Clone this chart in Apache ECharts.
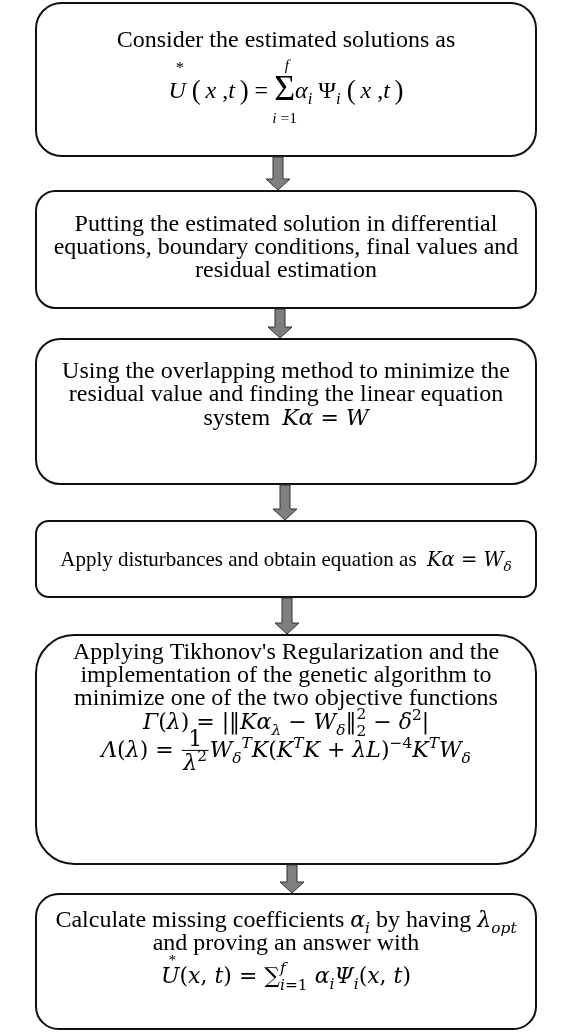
<!DOCTYPE html>
<html>
<head>
<meta charset="utf-8">
<script src="https://cdn.jsdelivr.net/npm/echarts@6/dist/echarts.min.js"></script>
<style>
html,body{margin:0;padding:0;background:#ffffff;}
#chart{width:561px;height:1032px;}
</style>
</head>
<body>
<div id="chart"></div>
<script>
// ---------- segment builders (text + math pieces) ----------
const R = s => ({k:'n', f:'T', s});          // roman text
const I = s => ({k:'n', f:'TI', s});         // italic text (Times-like)
const M = s => ({k:'n', f:'M', s});          // math italic
const U = s => ({k:'n', f:'MU', s});         // math upright
const toList = (s, f) => typeof s === 'string' ? [{s, f}] : s;
const Sub = (s, f) => ({k:'sub', list: toList(s, f || 'M')});
const Sup = (s, f) => ({k:'sup', list: toList(s, f || 'MU')});
const SubSup = (b, p) => ({k:'subsup', b, p});
const Frac = (num, den) => ({k:'frac', num, den});
const Acc = (s, a, f, rise, shift) => ({k:'acc', s, a, f, rise, shift});
const Big = (s, f, scale, drop) => ({k:'big', s, f, scale, drop});
const Op = (s, over, under, f) => ({k:'op', s, over, under, f});
const TH = '\u2009';

// ---------- chart content ----------
const stepLines = [
  [
    [R('Consider the estimated solutions as')],
    [Acc('U','*','TI',1.05,0.12), R(' '), Big('(','T',1.12,0.06), R(TH), I('x'), R(' ,'), I('t'), R(TH), Big(')','T',1.12,0.06), R(' = '),
     Op('Σ', [I('f')], [I('i'), R(' =1')], 'T'), I('α'), Sub([I('i')]), R(' Ψ'), Sub([I('i')]), R(' '),
     Big('(','T',1.12,0.06), R(TH), I('x'), R(' ,'), I('t'), R(TH), Big(')','T',1.12,0.06)]
  ],
  [
    [R('Putting the estimated solution in differential')],
    [R('equations, boundary conditions, final values and')],
    [R('residual estimation')]
  ],
  [
    [R('Using the overlapping method to minimize the')],
    [R('residual value and finding the linear equation')],
    [R('system  '), M('Kα'), U(' = '), M('W')]
  ],
  [
    [R('Apply disturbances and obtain equation as  '), M('Kα'), U(' = '), M('W'), Sub('δ')]
  ],
  [
    [R("Applying Tikhonov's Regularization and the")],
    [R('implementation of the genetic algorithm to')],
    [R('minimize one of the two objective functions')],
    [M('Γ'), U('('), M('λ'), U(') = |‖'), M('Kα'), Sub('λ'), U(' − '), M('W'), Sub('δ'), U('‖'),
     SubSup([U('2')],[U('2')]), U(' − '), M('δ'), Sup('2'), U('|')],
    [M('Λ'), U('('), M('λ'), U(') = '), Frac([U('1')], [M('λ'), Sup('2')]), M('W'), Sub('δ'), Sup('T','M'),
     M('K'), U('('), M('K'), Sup('T','M'), M('K'), U(' + '), M('λL'), U(')'), Sup('−4'), M('K'), Sup('T','M'), M('W'), Sub('δ')]
  ],
  [
    [R('Calculate missing coefficients '), M('α'), Sub('i'), R(' by having '), M('λ'), Sub('opt')],
    [R('and proving an answer with')],
    [Acc('U','*','M',0.8,0.1), U('('), M('x'), U(', '), M('t'), U(') = '), Big('∑','MU',1.0,0),
     SubSup([M('i'), U('=1')], [M('f')]), U(' '), M('α'), Sub('i'), M('Ψ'), Sub('i'), U('('), M('x'), U(', '), M('t'), U(')')]
  ]
];

// ---------- layout (flowchart geometry in canvas units) ----------
const boxTop      = [3, 191, 339, 521, 635, 894];
const boxBottom   = [156, 308, 484, 597, 864, 1029];
const arrowX      = [278, 280, 285, 287, 292];
const lineBaseline = [
  [47, 98],
  [231, 254, 277],
  [378, 401, 425],
  [566],
  [659, 682, 705, 729, 757],
  [927, 950, 983]
];
const textSize = [24, 24, 24, 21, 24, 24];
const mathSize = [22, 22, 22, 19.5, 22, 22];
const BOX_LEFT = 36, BOX_RIGHT = 536;

// ---------- text measurement ----------
const ctx = document.createElement('canvas').getContext('2d');
const FAM = {T:'"Liberation Serif"', TI:'"Liberation Serif"', M:'"DejaVu Serif"', MU:'"DejaVu Serif"'};
const STY = {T:'normal', TI:'italic', M:'italic', MU:'normal'};
function fontStr(f, size){ return STY[f] + ' normal ' + size + 'px ' + FAM[f]; }
function measure(f, size, s){ ctx.font = fontStr(f, size); return ctx.measureText(s).width; }
const midCache = {};
function midOffset(f, size){
  const key = f + size;
  if (midCache[key] !== undefined) return midCache[key];
  ctx.font = fontStr(f, size);
  ctx.textBaseline = 'alphabetic'; const a = ctx.measureText('H').actualBoundingBoxAscent;
  ctx.textBaseline = 'middle'; const b = ctx.measureText('H').actualBoundingBoxAscent;
  ctx.textBaseline = 'alphabetic';
  return (midCache[key] = a - b);
}

function layout(segs, ts, ms){
  const items = [], bars = [];
  let x = 0;
  const sz = f => (f === 'T' || f === 'TI') ? ts : ms;
  const add = (s, f, size, dx, dy) => { items.push({s, f, size, x: dx, dy}); return measure(f, size, s); };
  const runW = (list, scale) => list.reduce((w, g) => w + measure(g.f, sz(g.f)*scale, g.s), 0);
  const run = (list, scale, dx, dy) => { let w = 0; for (const g of list) w += add(g.s, g.f, sz(g.f)*scale, dx + w, dy); return w; };
  for (const g of segs){
    if (g.k === 'n') x += add(g.s, g.f, sz(g.f), x, 0);
    else if (g.k === 'big'){ const b = sz(g.f); x += add(g.s, g.f, b*g.scale, x, b*g.drop); }
    else if (g.k === 'sub'){ const b = sz(g.list[0].f); x += run(g.list, 0.7, x, 0.27*b); }
    else if (g.k === 'sup'){ const b = sz(g.list[0].f); x += run(g.list, 0.7, x, -0.42*b); }
    else if (g.k === 'subsup'){
      const b = sz(g.b[0].f);
      const w1 = run(g.b, 0.7, x, 0.3*b), w2 = run(g.p, 0.7, x, -0.45*b);
      x += Math.max(w1, w2);
    }
    else if (g.k === 'frac'){
      const n = layout(g.num, ts, ms), d = layout(g.den, ts, ms);
      const pad = 0.12*ms, w = Math.max(n.width, d.width) + 2*pad, axis = -0.3*ms;
      n.items.forEach(it => items.push({...it, x: it.x + x + (w - n.width)/2, dy: it.dy + axis - 0.2*ms}));
      d.items.forEach(it => items.push({...it, x: it.x + x + (w - d.width)/2, dy: it.dy + axis + 0.9*ms}));
      bars.push({x1: x + pad*0.4, x2: x + w - pad*0.4, dy: axis});
      x += w;
    }
    else if (g.k === 'acc'){
      const b = sz(g.f), w = add(g.s, g.f, b, x, 0);
      const aw = measure('T', b*0.7, g.a);
      add(g.a, 'T', b*0.7, x + (w - aw)/2 + g.shift*b, -g.rise*b);
      x += w;
    }
    else if (g.k === 'op'){
      const b = ts, w = add(g.s, g.f, b*1.5, x, 0.08*b);
      const wo = runW(g.over, 0.65), wu = runW(g.under, 0.65);
      run(g.over, 0.65, x + (w - wo)/2 + 0.1*b, -1.15*b);
      run(g.under, 0.65, x + (w - wu)/2, 1.05*b);
      x += w;
    }
  }
  return {items, bars, width: x};
}

// ---------- chart ----------
const chart = echarts.init(document.getElementById('chart'), null, {renderer:'canvas'});
chart.setOption({
  animation: false,
  backgroundColor: '#ffffff',
  grid: {left: 0, right: 0, top: 0, bottom: 0},
  xAxis: {type:'value', min:0, max:561, show:false},
  yAxis: {type:'value', min:0, max:1032, inverse:true, show:false},
  series: [{
    type: 'custom',
    silent: true,
    data: boxTop.map((t, i) => [i, t]),
    renderItem: function(params, api){
      const i = params.dataIndex;
      const tl = api.coord([BOX_LEFT, boxTop[i]]), br = api.coord([BOX_RIGHT, boxBottom[i]]);
      const w = br[0] - tl[0], h = br[1] - tl[1];
      const children = [];
      if (i > 0){
        const ax = api.coord([arrowX[i-1], 0])[0];
        const y0 = api.coord([0, boxBottom[i-1]])[1] + 1;
        const y1 = api.coord([0, boxTop[i]])[1] - 1;
        const sw = 5, hw = 12, hl = 11;
        children.push({type:'polygon', shape:{points:[
          [ax-sw, y0], [ax+sw, y0], [ax+sw, y1-hl], [ax+hw, y1-hl], [ax, y1], [ax-hw, y1-hl], [ax-sw, y1-hl]
        ]}, style:{fill:'#7f7f7f', stroke:'#333333', lineWidth:1}});
      }
      children.push({type:'rect', shape:{x:tl[0], y:tl[1], width:w, height:h, r:Math.min(w,h)*0.1667},
        style:{fill:'#ffffff', stroke:'#111111', lineWidth:2}});
      const cx = (tl[0] + br[0]) / 2;
      stepLines[i].forEach((segs, j) => {
        const L = layout(segs, textSize[i], mathSize[i]);
        const by = api.coord([0, lineBaseline[i][j]])[1];
        const x0 = cx - L.width / 2;
        L.items.forEach(it => children.push({
          type:'text', x: x0 + it.x, y: by + it.dy - midOffset(it.f, it.size),
          style:{text: it.s, fontSize: it.size, fontFamily: FAM[it.f], fontStyle: STY[it.f],
                 fill:'#000000', align:'left', verticalAlign:'middle'}
        }));
        L.bars.forEach(b => children.push({type:'line',
          shape:{x1: x0 + b.x1, y1: by + b.dy, x2: x0 + b.x2, y2: by + b.dy},
          style:{stroke:'#000000', lineWidth:1}}));
      });
      return {type:'group', children};
    }
  }]
});
</script>
</body>
</html>
